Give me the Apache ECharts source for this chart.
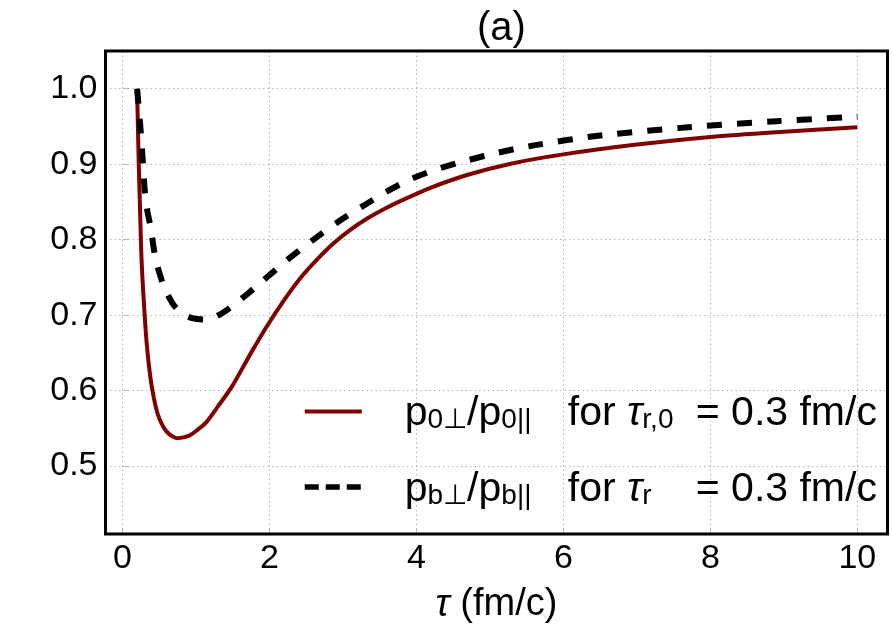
<!DOCTYPE html>
<html><head><meta charset="utf-8">
<script src="https://cdn.jsdelivr.net/npm/echarts@6/dist/echarts.min.js"></script>
<style>html,body{margin:0;padding:0;background:#fff}#c{width:892px;height:632px}</style>
</head><body><div id="c"></div>
<script>
// ---- data ----
const tauSolid   = [0.2, 0.22, 0.24, 0.26, 0.29, 0.33, 0.38, 0.43, 0.48, 0.54, 0.6, 0.67, 0.75, 0.83, 0.92, 1.02, 1.14, 1.3, 1.5, 1.75, 1.97, 2.2, 2.42, 2.65, 2.87, 3.1, 3.33, 3.55, 3.78, 4.2, 4.7, 5.3, 6.0, 7.0, 8.0, 9.0, 10.0];
const ratioSolid = [1.0, 0.91, 0.84, 0.775, 0.72, 0.663, 0.618, 0.589, 0.569, 0.555, 0.546, 0.54, 0.537, 0.538, 0.541, 0.548, 0.558, 0.579, 0.607, 0.65, 0.686, 0.720, 0.749, 0.774, 0.795, 0.813, 0.828, 0.840, 0.851, 0.869, 0.886, 0.901, 0.913, 0.926, 0.936, 0.943, 0.949];
const tauDashed   = [0.2, 0.244, 0.276, 0.307, 0.34, 0.38, 0.452, 0.5, 0.565, 0.68, 0.79, 0.95, 1.15, 1.33, 1.52, 1.7, 1.88, 2.06, 2.24, 2.6, 2.97, 3.33, 3.6, 3.92, 4.3, 4.69, 5.1, 5.6, 6.5, 7.7, 8.9, 10.0];
const ratioDashed = [1.0, 0.95, 0.906, 0.862, 0.838, 0.818, 0.774, 0.757, 0.738, 0.716, 0.704, 0.696, 0.694, 0.701, 0.714, 0.728, 0.743, 0.758, 0.773, 0.8, 0.826, 0.848, 0.864, 0.88, 0.894, 0.905, 0.915, 0.925, 0.938, 0.949, 0.957, 0.963];
const xTickLabels = [0, 2, 4, 6, 8, 10];
const yTickLabels = [0.5, 0.6, 0.7, 0.8, 0.9, 1.0];
const seriesNames = ['p0⊥/p0|| for τr,0 = 0.3 fm/c', 'pb⊥/pb|| for τr = 0.3 fm/c'];
const legendParts = [
  {a: '0', b: '0', t: 'r,0'},
  {a: 'b', b: 'b', t: 'r'}
];
const titleText = '(a)';

// ---- build ----
const FONT = "'Liberation Sans', Arial, sans-serif";
const MAIN = 41, SUB = 28;
const cv = document.createElement('canvas').getContext('2d');
function w(txt, size, italic) { cv.font = (italic ? 'italic ' : '') + size + 'px ' + FONT.split(',')[0]; return cv.measureText(txt).width; }

const legendLeft = 302, iconW = 57;
const textStart = legendLeft + iconW + 5;
const gapW = 38, forX = 565, eqX = 693;
function legendFmt(name) {
  const i = seriesNames.indexOf(name);
  const p = legendParts[i];
  return '{g|}{m|p}{s|' + p.a + '⊥}{m|/p}{s|' + p.b + '||}{sp1_' + i + '|}{m|for }{it|τ}{s|' + p.t + '}{sp2_' + i + '|}{m|= 0.3 fm/c}';
}
const rich = {
  g: {width: gapW, height: 40},
  m: {fontSize: MAIN, fontFamily: FONT, color: '#000', lineHeight: 46, verticalAlign: 'bottom'},
  it: {fontSize: MAIN, fontFamily: FONT, fontStyle: 'italic', color: '#000', lineHeight: 46, verticalAlign: 'bottom'},
  s: {fontSize: SUB, fontFamily: FONT, color: '#000', lineHeight: 22, verticalAlign: 'bottom'}
};
for (let i = 0; i < seriesNames.length; i++) {
  const p = legendParts[i];
  const x = textStart + gapW + w('p', MAIN) + w(p.a + '⊥', SUB) + w('/p', MAIN) + w(p.b + '||', SUB);
  rich['sp1_' + i] = {width: Math.max(2, forX - x), height: 10};
  const x2 = forX + w('for ', MAIN) + w('τ', MAIN, true) + w(p.t, SUB);
  rich['sp2_' + i] = {width: Math.max(2, eqX - x2), height: 10};
}

const chart = echarts.init(document.getElementById('c'), null, {renderer: 'canvas'});
const near = (v, arr) => arr.some(t => Math.abs(t - v) < 1e-6);
chart.setOption({
  animation: false,
  backgroundColor: '#fff',
  title: {text: titleText, left: 472, top: 4, textStyle: {fontFamily: FONT, fontSize: 40, fontWeight: 'normal', color: '#000'}},
  grid: {left: 105.5, top: 51, right: 4.5, bottom: 98, show: true, borderColor: '#000', borderWidth: 3, backgroundColor: 'transparent', z: 10},
  xAxis: {
    type: 'value', min: -0.23, max: 10.41, splitNumber: 5,
    axisLine: {show: false},
    axisTick: {show: true, inside: true, length: 6, lineStyle: {color: '#bbb'}},
    axisLabel: {margin: 8, fontFamily: FONT, fontSize: 34, color: '#000', showMinLabel: false, showMaxLabel: false,
      formatter: v => near(v, xTickLabels) ? String(Math.round(v)) : ''},
    splitLine: {show: true, showMinLine: false, showMaxLine: false, lineStyle: {color: '#b5b5b5', width: 1, type: [1.5, 3]}},
    name: '{i|τ} (fm/c)', nameLocation: 'middle', nameGap: 52,
    nameTextStyle: {fontFamily: FONT, fontSize: 38, color: '#000', rich: {i: {fontFamily: FONT, fontSize: 38, fontStyle: 'italic', color: '#000'}}}
  },
  yAxis: {
    type: 'value', min: 0.41, max: 1.05, splitNumber: 6,
    axisLine: {show: false},
    axisTick: {show: true, inside: true, length: 6, lineStyle: {color: '#bbb'}},
    axisLabel: {margin: 8, fontFamily: FONT, fontSize: 34, color: '#000', showMinLabel: false, showMaxLabel: false,
      formatter: v => near(v, yTickLabels) ? v.toFixed(1) : ''},
    splitLine: {show: true, showMinLine: false, showMaxLine: false, lineStyle: {color: '#b5b5b5', width: 1, type: [1.5, 3]}}
  },
  legend: {
    orient: 'vertical', left: legendLeft, top: 391, itemWidth: iconW, itemHeight: 20, itemGap: 32,
    padding: 0,
    itemStyle: {color: 'transparent', borderColor: 'transparent', borderWidth: 0, opacity: 0},
    data: [
      {name: seriesNames[0], lineStyle: {color: '#800000', width: 4, opacity: 1}},
      {name: seriesNames[1], lineStyle: {color: '#000', type: [14, 7], width: 5.5, opacity: 1}}
    ],
    formatter: legendFmt,
    textStyle: {rich: rich, fontFamily: FONT, fontSize: MAIN, color: '#000'}
  },
  series: [
    {name: seriesNames[0], type: 'line', showSymbol: false, symbol: 'none', smooth: 0.3,
     data: tauSolid.map((t, i) => [t, ratioSolid[i]]),
     lineStyle: {color: '#800000', width: 4}, itemStyle: {color: '#800000'}, z: 2},
    {name: seriesNames[1], type: 'line', showSymbol: false, symbol: 'none', smooth: 0.3,
     data: tauDashed.map((t, i) => [t, ratioDashed[i]]),
     lineStyle: {color: '#000', width: 6, type: [15, 15], cap: 'butt'}, itemStyle: {color: '#000'}, z: 3}
  ]
});
</script>
</body></html>
